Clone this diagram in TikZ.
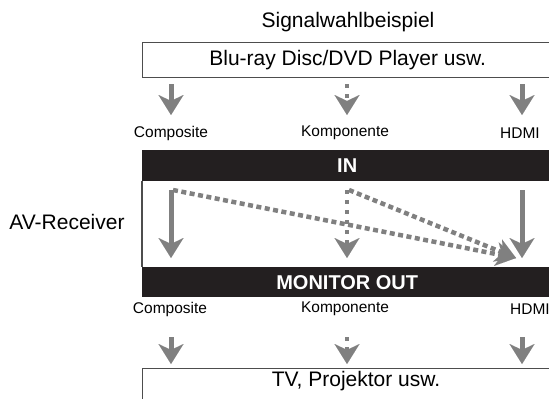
\documentclass[tikz,border=0pt]{standalone}
\usepackage{fontspec}
\setmainfont{Liberation Sans}
\usetikzlibrary{arrows.meta}
\definecolor{arrowgray}{HTML}{808080}
\definecolor{barblack}{HTML}{231F20}
\definecolor{framegray}{HTML}{4D4D4D}
\tikzset{
  big/.style={font=\fontsize{21}{25}\selectfont, inner sep=0pt},
  lbl/.style={font=\fontsize{15.5}{18}\selectfont, inner sep=0pt},
  framebox/.style={draw=framegray, line width=1.3pt, inner sep=0pt, anchor=north west, minimum width=410pt},
  barbox/.style={fill=barblack, inner sep=0pt, anchor=north west, minimum width=410pt,
    font=\fontsize{20}{24}\selectfont\bfseries, text=white},
  flow/.style={draw=arrowgray, line width=5pt,
    -{Stealth[length=20pt,width=25pt,inset=6pt,line width=0.01pt]}},
  flowdot/.style={flow, line width=4.5pt, dash pattern=on 4pt off 6pt},
  diag/.style={draw=arrowgray, line width=4.5pt, dash pattern=on 5pt off 3.5pt,
    -{Stealth[length=20pt,width=24pt,inset=6pt,line width=0.01pt]}},
}
\begin{document}
\begin{tikzpicture}[x=1pt,y=-1pt]
\useasboundingbox (0,0) rectangle (549,399);
\clip (0,0) rectangle (549,399);
% title and source
\node[big] (title) at (348,22) {Signalwahlbeispiel};
\node[framebox, minimum height=35pt, big] (src) at (142,42) {Blu-ray Disc/DVD Player usw.};
% top arrows
\coordinate (ta1) at (171,84);  \coordinate (tb1) at (171,115);
\coordinate (ta2) at (347,84);  \coordinate (tb2) at (347,115);
\coordinate (ta3) at (522,84);  \coordinate (tb3) at (522,115);
\draw[flow] (ta1) -- (tb1);
\draw[flowdot] (ta2) -- (tb2);
\draw[flow] (ta3) -- (tb3);
% input labels
\node[lbl] (icomp) at (171,133) {Composite};
\node[lbl] (ikomp) at (345,133) {Komponente};
\node[lbl] (ihdmi) at (520,133) {HDMI};
% receiver
\node[barbox, minimum height=31pt] (inbar) at (142,150) {IN};
\node[barbox, minimum height=30pt] (outbar) at (142,267) {MONITOR OUT};
\draw[draw=framegray, line width=1.3pt] (inbar.south west) -- (outbar.north west);
\node[big] (avr) at (67,222) {AV-Receiver};
% internal arrows
\coordinate (ia1) at (171,190); \coordinate (ib1) at (171,258);
\coordinate (ia2) at (347,190); \coordinate (ib2) at (347,258);
\coordinate (ia3) at (522,190); \coordinate (ib3) at (522,258);
\coordinate (dsa) at (173,190); \coordinate (dsb) at (349,190);
\coordinate (dend) at (516,258);
\draw[diag] (dsa) -- (dend);
\draw[diag] (dsb) -- (dend);
\draw[flow] (ia1) -- (ib1);
\draw[flowdot] (ia2) -- (ib2);
\draw[flow] (ia3) -- (ib3);
% output labels
\node[lbl] (ocomp) at (170,309) {Composite};
\node[lbl] (okomp) at (345,309) {Komponente};
\node[lbl] (ohdmi) at (530,309) {HDMI};
% bottom arrows
\coordinate (ba1) at (171,337); \coordinate (bb1) at (171,364);
\coordinate (ba2) at (347,337); \coordinate (bb2) at (347,364);
\coordinate (ba3) at (522,337); \coordinate (bb3) at (522,364);
\draw[flow] (ba1) -- (bb1);
\draw[flowdot] (ba2) -- (bb2);
\draw[flow] (ba3) -- (bb3);
% target
\node[framebox, minimum height=45pt] (tv) at (142,368) {};
\node[big] (tvtext) at (356,381) {TV, Projektor usw.};
\end{tikzpicture}
\end{document}
